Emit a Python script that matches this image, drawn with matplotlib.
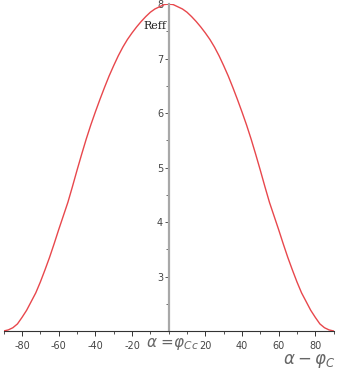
import matplotlib.pyplot as plt
from matplotlib.ticker import MultipleLocator, FixedLocator

angle = [i * 2.5 for i in range(-36, 37)]
half = [2.00, 2.02, 2.06, 2.13, 2.25, 2.38, 2.54, 2.70, 2.90, 3.12, 3.35, 3.60,
        3.86, 4.11, 4.36, 4.65, 4.95, 5.24, 5.52, 5.78, 6.02, 6.25, 6.47, 6.68,
        6.87, 7.05, 7.21, 7.35, 7.47, 7.58, 7.68, 7.77, 7.85, 7.91, 7.95, 7.99]
reff = half + [8.00] + half[::-1]

x_ticks = [-80, -60, -40, -20, 20, 40, 60, 80]
y_ticks = [3, 4, 5, 6, 7, 8]

fig = plt.figure(figsize=(3.37, 3.69), dpi=100)
ax = fig.add_axes([0.011, 0.103, 0.979, 0.886])

ax.plot(angle, reff, color='#e8474c', lw=1.0)

ax.set_xlim(-90, 90)
ax.set_ylim(2, 8)

ax.spines['top'].set_visible(False)
ax.spines['right'].set_visible(False)
ax.spines['left'].set_position(('data', 0))
ax.spines['left'].set_color('#a8a8a8')
ax.spines['left'].set_linewidth(1.6)
ax.spines['bottom'].set_color('#333333')
ax.spines['bottom'].set_linewidth(0.8)

ax.xaxis.set_major_locator(FixedLocator(x_ticks))
ax.xaxis.set_minor_locator(MultipleLocator(10))
ax.yaxis.set_major_locator(FixedLocator(y_ticks))
ax.yaxis.set_minor_locator(MultipleLocator(0.5))
ax.set_xticklabels([str(t) for t in x_ticks])
ax.set_yticklabels([str(t) for t in y_ticks])

ax.tick_params(axis='x', which='major', length=3.5, width=0.7, color='#333333',
               labelsize=7, labelcolor='#444444', pad=4)
ax.tick_params(axis='x', which='minor', length=2, width=0.6, color='#333333')
ax.tick_params(axis='y', which='major', length=3, width=0.7, color='#555555',
               labelsize=7, labelcolor='#444444', pad=1)
ax.tick_params(axis='y', which='minor', length=2, width=0.6, color='#555555')

ax.text(-1.5, 7.6, 'Reff', family='serif', fontsize=8, ha='right', va='center', color='#222222')
ax.text(-12.5, 1.76, r'$\alpha$ =$\varphi_{Cc}$', fontsize=11, color='#666666',
        ha='left', va='center', clip_on=False)
ax.text(91, 1.45, r'$\alpha-\varphi_C$', fontsize=12, color='#666666',
        ha='right', va='center', clip_on=False)

fig.savefig('out.png', dpi=100)
